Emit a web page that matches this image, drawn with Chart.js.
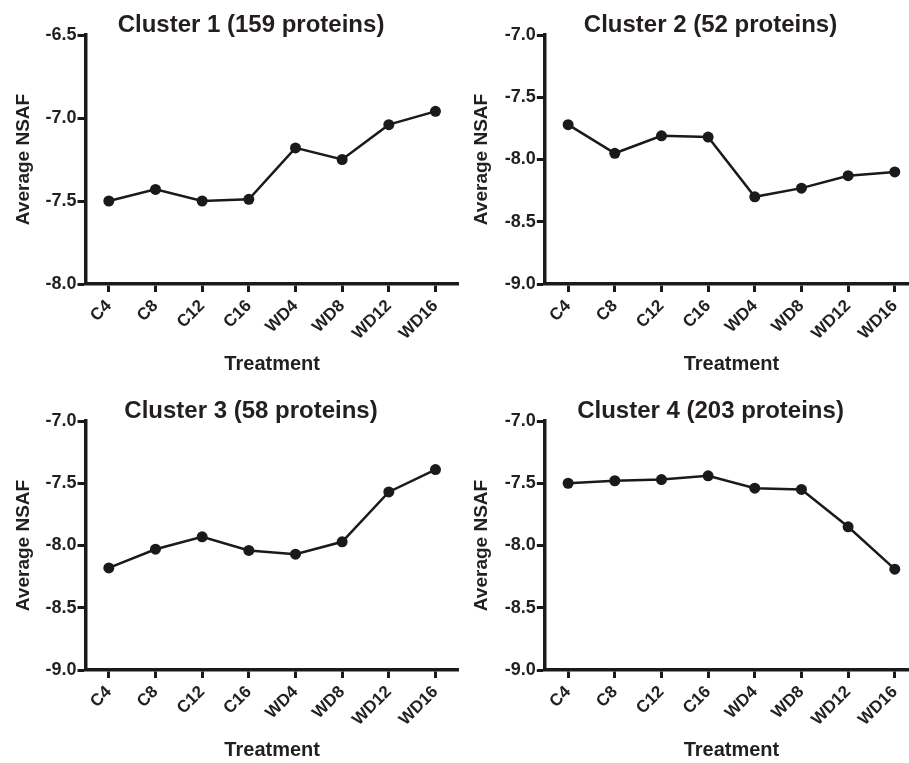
<!DOCTYPE html>
<html>
<head>
<meta charset="utf-8">
<script src="https://cdn.jsdelivr.net/npm/chart.js@4"></script>
<style>
  html,body{margin:0;padding:0;background:#fff;overflow:hidden;width:909px;height:763px}
  canvas{position:absolute}
</style>
</head>
<body>
<canvas id="c1" width="480" height="381" style="left:0;top:0"></canvas>
<canvas id="c2" width="480" height="381" style="left:454px;top:0"></canvas>
<canvas id="c3" width="480" height="381" style="left:0;top:386px"></canvas>
<canvas id="c4" width="480" height="381" style="left:454px;top:386px"></canvas>
<script>
const treatments = ['C4','C8','C12','C16','WD4','WD8','WD12','WD16'];
const cluster1 = [-7.50, -7.43, -7.50, -7.49, -7.18, -7.25, -7.04, -6.96];
const cluster2 = [-7.72, -7.95, -7.81, -7.82, -8.30, -8.23, -8.13, -8.10];
const cluster3 = [-8.18, -8.03, -7.93, -8.04, -8.07, -7.97, -7.57, -7.39];
const cluster4 = [-7.50, -7.48, -7.47, -7.44, -7.54, -7.55, -7.85, -8.19];
const titles = ['Cluster 1 (159 proteins)','Cluster 2 (52 proteins)','Cluster 3 (58 proteins)','Cluster 4 (203 proteins)'];
const yRanges = [[-8.0,-6.5],[-9.0,-7.0],[-9.0,-7.0],[-9.0,-7.0]];

const INK = '#231f20';
const FONT = '"Liberation Sans", Arial, Helvetica, sans-serif';

// shift the title block so it is centred on a given x (the figure's titles sit left of the plot centre)
const titleShift = {
  id:'titleShift',
  afterLayout(chart, args, opts){
    const t = chart.titleBlock; if(!t) return;
    const w = t.right - t.left;
    t.left = opts.cx - w/2; t.right = opts.cx + w/2;
  }
};

// left/right: chart area edges, ytPad: y-title padding, cx: title centre
function makeChart(id, data, title, range, left, right, ytPad, cx){
  const canvas = document.getElementById(id);
  const ctx = canvas.getContext('2d');
  return new Chart(ctx, {
    type:'line',
    data:{ labels:treatments, datasets:[{
      data:data, borderColor:'#1a1a1a', borderWidth:2.5,
      pointRadius:5.5, pointBackgroundColor:'#1a1a1a', pointBorderWidth:0, tension:0
    }]},
    plugins:[titleShift],
    options:{
      responsive:false, animation:false, devicePixelRatio:1,
      layout:{ padding:{ left:0, top:0, bottom:0, right:canvas.width - right } },
      plugins:{
        legend:{ display:false }, tooltip:{ enabled:false },
        titleShift:{ cx:cx },
        title:{ display:true, text:title, color:INK,
                font:{ family:FONT, size:24, weight:'bold', lineHeight:1 },
                padding:{ top:13.2, bottom:-2.2 } }
      },
      scales:{
        x:{
          type:'category', offset:true,
          grid:{ display:true, drawOnChartArea:false, drawTicks:true, tickLength:8, tickWidth:3, tickColor:'#1a1a1a', offset:false },
          border:{ display:true, color:'#1a1a1a', width:3.5 },
          ticks:{ color:INK, font:{ family:FONT, size:17, weight:'bold' }, minRotation:45, maxRotation:45, padding:4, autoSkip:false },
          title:{ display:true, text:'Treatment', color:INK, font:{ family:FONT, size:20, weight:'bold', lineHeight:1.2 }, padding:{ top:0, bottom:5 } },
          afterFit:(s)=>{ s.height = 97; }
        },
        y:{
          min:range[0], max:range[1],
          grid:{ display:true, drawOnChartArea:false, drawTicks:true, tickLength:8, tickWidth:3, tickColor:'#1a1a1a' },
          border:{ display:true, color:'#1a1a1a', width:3.5 },
          ticks:{ stepSize:0.5, color:INK, padding:1, font:{ family:FONT, size:18, weight:'bold' }, callback:(v)=>v.toFixed(1) },
          title:{ display:true, text:'Average NSAF', color:INK, font:{ family:FONT, size:19, weight:'bold', lineHeight:1.2 }, padding:{ top:ytPad, bottom:0 } },
          afterFit:(s)=>{ s.width = left; }
        }
      }
    }
  });
}

makeChart('c1', cluster1, titles[0], yRanges[0], 85.5, 458.8, 12, 251);
makeChart('c2', cluster2, titles[1], yRanges[1], 90.8, 464.1, 16.5, 256.5);
makeChart('c3', cluster3, titles[2], yRanges[2], 85.5, 458.8, 12, 251);
makeChart('c4', cluster4, titles[3], yRanges[3], 90.8, 464.1, 16.5, 256.5);
</script>
</body>
</html>
